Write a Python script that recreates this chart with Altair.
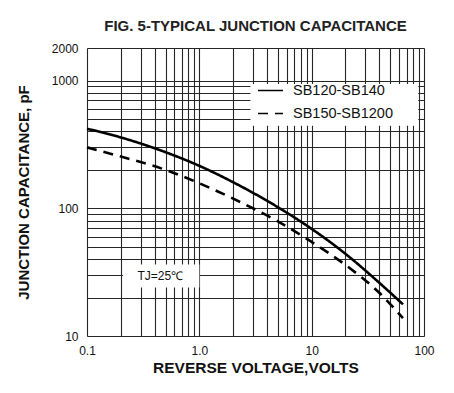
import altair as alt
import pandas as pd

# ---- data ----
series_names = ["SB120-SB140", "SB150-SB1200"]

a_volts = [0.1, 0.2, 0.5, 1, 2, 5, 10, 20, 40, 65]
a_cap = [420, 359, 275, 215, 160, 102, 69, 44, 26.1, 17.7]

b_volts = [0.1, 0.2, 0.5, 1, 2, 5, 10, 20, 40, 65]
b_cap = [300, 254, 200, 157, 119, 79, 54.5, 36, 21.8, 13.8]

x_label_values = [0.1, 1.0, 10.0, 100.0]
x_label_text = ["0.1", "1.0", "10", "100"]
y_label_values = [10.0, 100.0, 1000.0, 1800.0]
y_label_text = ["10", "100", "1000", "2000"]

x_domain = [0.1, 100]
y_domain = [10, 1800]

# white boxes (legend background, temperature note), data coordinates
box_x = [2.85, 0.209]
box_x2 = [89.0, 1.0]
box_y = [443.0, 24.0]
box_y2 = [942.0, 36.3]

note_text = ["TJ=25\u2103"]
note_x = [0.45]
note_y = [29.5]

# ---- build tables ----
lines = pd.DataFrame(
    {"v": a_volts + b_volts,
     "c": a_cap + b_cap,
     "series": [series_names[0]] * len(a_volts) + [series_names[1]] * len(b_volts)}
)
boxes = pd.DataFrame({"x": box_x, "x2": box_x2, "y": box_y, "y2": box_y2})
notes = pd.DataFrame({"t": note_text, "x": note_x, "y": note_y})

x_grid = [round(k * 10.0 ** e, 6) for e in (-1, 0, 1) for k in range(1, 10)] + [100.0]
y_grid = [round(k * 10.0 ** e, 6) for e in (1, 2) for k in range(1, 10)] + [1000.0, 1800.0]


def label_expr(vals, texts):
    parts = "".join(f"datum.value == {v} ? '{t}' : " for v, t in zip(vals, texts))
    return parts + "''"


FONT = "Liberation Sans"
GRID = "#262626"

x_axis = alt.Axis(
    values=x_grid, labelExpr=label_expr(x_label_values, x_label_text),
    grid=True, gridColor=GRID, gridWidth=1.1, gridOpacity=1,
    ticks=False, domain=False, labelOverlap=False, labelFlush=False,
    labelFontSize=12, labelFont=FONT, labelColor="#111", labelPadding=9,
    title="REVERSE VOLTAGE,VOLTS", titleFont=FONT, titleFontSize=15.5,
    titleFontWeight="bold", titleColor="#111", titlePadding=4,
)
y_axis = alt.Axis(
    values=y_grid, labelExpr=label_expr(y_label_values, y_label_text),
    grid=True, gridColor=GRID, gridWidth=1.1, gridOpacity=1,
    ticks=False, domain=False, labelOverlap=False, labelFlush=False,
    labelFontSize=12, labelFont=FONT, labelColor="#111", labelPadding=9,
    title="JUNCTION CAPACITANCE, pF", titleFont=FONT, titleFontSize=15,
    titleFontWeight="bold", titleColor="#111", titlePadding=20,
)
x_scale = alt.Scale(type="log", domain=x_domain)
y_scale = alt.Scale(type="log", domain=y_domain)

rects = alt.Chart(boxes).mark_rect(fill="white").encode(
    x=alt.X("x:Q", scale=x_scale, axis=x_axis),
    x2="x2:Q",
    y=alt.Y("y:Q", scale=y_scale, axis=y_axis),
    y2="y2:Q",
)

curves = alt.Chart(lines).mark_line(strokeWidth=2.6, interpolate="monotone").encode(
    x=alt.X("v:Q", scale=x_scale, axis=x_axis),
    y=alt.Y("c:Q", scale=y_scale, axis=y_axis),
    color=alt.value("black"),
    strokeDash=alt.StrokeDash(
        "series:N",
        scale=alt.Scale(domain=series_names, range=[[1, 0], [10, 7]]),
        legend=alt.Legend(
            orient="none", legendX=170, legendY=29, title=None,
            symbolType="stroke", symbolSize=625, symbolStrokeWidth=1.5,
            symbolStrokeColor="black", labelFont=FONT, labelFontSize=14.5,
            labelColor="#111", labelOffset=9, rowPadding=3, padding=0,
        ),
    ),
    detail="series:N",
)

note = alt.Chart(notes).mark_text(font=FONT, fontSize=12, color="#111").encode(
    x=alt.X("x:Q", scale=x_scale, axis=x_axis),
    y=alt.Y("y:Q", scale=y_scale, axis=y_axis),
    text="t:N",
)

chart = (
    alt.layer(rects, curves, note)
    .properties(
        width=337, height=288,
        title=alt.TitleParams(
            "FIG. 5-TYPICAL JUNCTION CAPACITANCE", font=FONT, fontSize=15,
            fontWeight="bold", color="#222", offset=8, anchor="middle",
        ),
        autosize=alt.AutoSizeParams(type="none"),
        padding={"left": 79, "top": 40, "right": 22, "bottom": 49},
    )
    .configure_view(stroke="#222", strokeWidth=1.3)
    .configure(background="white")
)

chart.save("out.html", embed_options={"renderer": "svg", "actions": False})
